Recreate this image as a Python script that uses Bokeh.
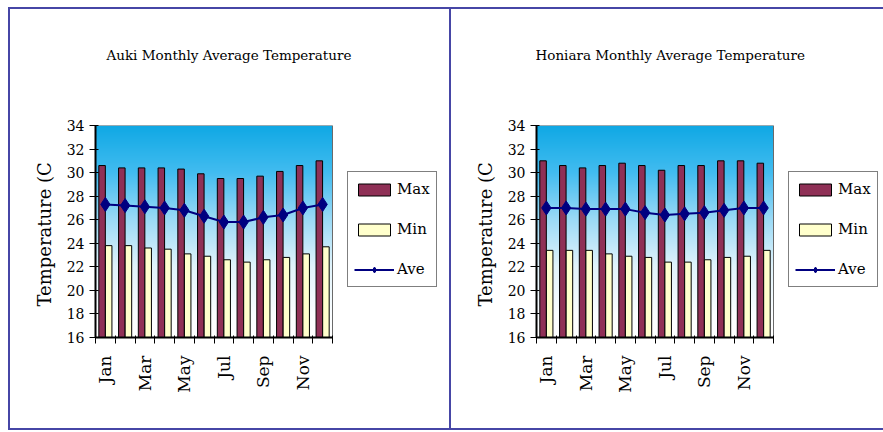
import numpy as np
from bokeh.plotting import figure
from bokeh.layouts import row
from bokeh.models import FixedTicker, Legend, LegendItem, ColumnDataSource, Title
from bokeh.embed import file_html
from bokeh.resources import INLINE

# ---- data -------------------------------------------------------------
months = ["Jan", "Feb", "Mar", "Apr", "May", "Jun",
          "Jul", "Aug", "Sep", "Oct", "Nov", "Dec"]

auki_max = [30.6, 30.4, 30.4, 30.4, 30.3, 29.9, 29.5, 29.5, 29.7, 30.1, 30.6, 31.0]
auki_min = [23.8, 23.8, 23.6, 23.5, 23.1, 22.9, 22.6, 22.4, 22.6, 22.8, 23.1, 23.7]
auki_ave = [27.3, 27.2, 27.1, 27.0, 26.8, 26.3, 25.8, 25.8, 26.2, 26.4, 27.0, 27.3]

honiara_max = [31.0, 30.6, 30.4, 30.6, 30.8, 30.6, 30.2, 30.6, 30.6, 31.0, 31.0, 30.8]
honiara_min = [23.4, 23.4, 23.4, 23.1, 22.9, 22.8, 22.4, 22.4, 22.6, 22.8, 22.9, 23.4]
honiara_ave = [27.0, 27.0, 26.9, 26.9, 26.9, 26.6, 26.4, 26.5, 26.6, 26.8, 27.0, 27.0]

y_ticks = [16, 18, 20, 22, 24, 26, 28, 30, 32, 34]
labelled_months = ["Jan", "Mar", "May", "Jul", "Sep", "Nov"]

# ---- styling ----------------------------------------------------------
FONT = "DejaVu Serif"
MAX_COLOR = "#8f3056"
MIN_COLOR = "#ffffcc"
AVE_COLOR = "#000080"
FRAME_COLOR = "#4646a6"

PLOT_LEFT = 95      # px from panel edge to the value axis
PLOT_WIDTH = 237    # px covered by the twelve month slots

# sky gradient stops (value, rgb) for the plot-area backdrop
GRADIENT = [(16, (255, 255, 255)), (18, (250, 253, 255)), (22, (225, 243, 251)),
            (26, (155, 218, 246)), (30, (66, 188, 240)), (34, (16, 168, 228))]


def gradient_image(v0, v1, rows=212):
    vals = np.linspace(v0, v1, rows)
    img = np.zeros((rows, 1), dtype=np.uint32)
    view = img.view(dtype=np.uint8).reshape((rows, 1, 4))
    stops_v = [s[0] for s in GRADIENT]
    for ch in range(3):
        view[:, 0, ch] = np.round(np.interp(vals, stops_v, [s[1][ch] for s in GRADIENT]))
    view[:, 0, 3] = 255
    return img


def panel_frame_css(width, rule_start):
    # thin rules that box in each panel (left, top and bottom edges)
    c = FRAME_COLOR
    return {
        "background":
            f"linear-gradient({c},{c}) 8px 7px / 2px 423px no-repeat, "
            f"linear-gradient({c},{c}) {rule_start}px 7px / {width}px 2px no-repeat, "
            f"linear-gradient({c},{c}) {rule_start}px 428px / {width}px 2px no-repeat, white"
    }


def make_panel(title, mx, mn, av, total_width, rule_start, title_offset):
    y0, y1 = y_ticks[0], y_ticks[-1]
    n = len(months)
    # the frame runs to the panel's right edge so the legend can sit beside
    # the month slots; the x axis is bounded to the slots themselves
    x_end = 0.5 + n * (total_width - PLOT_LEFT) / PLOT_WIDTH
    p = figure(width=total_width, height=432,
               min_border_left=PLOT_LEFT, min_border_right=0,
               min_border_top=125, min_border_bottom=95,
               x_range=(0.5, x_end), y_range=(y0, y1),
               output_backend="svg", toolbar_location=None,
               border_fill_alpha=0, background_fill_alpha=0)
    p.styles = panel_frame_css(total_width, rule_start)
    p.outline_line_color = None

    # backdrop gradient behind the bars, with a thin edge
    p.image_rgba(image=[gradient_image(y0, y1)], x=0.5, y=y0, dw=n, dh=y1 - y0)
    p.quad(left=0.5, right=n + 0.5, bottom=y0, top=y1,
           fill_color=None, line_color="#6a6a6a", line_width=1)

    x = list(range(1, n + 1))
    src = ColumnDataSource(dict(
        x=x,
        x_max=[i - 0.167 for i in x],
        x_min=[i + 0.167 for i in x],
        mx=mx, mn=mn, av=av))

    r_max = p.vbar(x="x_max", top="mx", bottom=y0, width=0.33, source=src,
                   fill_color=MAX_COLOR, line_color="black", line_width=1)
    r_min = p.vbar(x="x_min", top="mn", bottom=y0, width=0.33, source=src,
                   fill_color=MIN_COLOR, line_color="black", line_width=1)
    r_line = p.line(x="x", y="av", source=src, line_color=AVE_COLOR, line_width=2)
    r_pts = p.scatter(x="x", y="av", source=src, marker="diamond", size=14,
                      fill_color=AVE_COLOR, line_color=AVE_COLOR)

    # title, lifted clear of the plot by an empty spacer band
    p.title.text = title
    p.title.align = "left"
    p.title.offset = title_offset
    p.title.standoff = 10
    p.title.text_font = FONT
    p.title.text_font_size = "13.5px"
    p.title.text_font_style = "normal"
    p.title.text_color = "black"
    p.add_layout(Title(text=" ", standoff=41, text_font_size="13.5px"), "above")

    # axes
    p.xgrid.visible = False
    p.ygrid.visible = False

    xa = p.xaxis[0]
    label_pos = [months.index(m) + 1 for m in labelled_months]
    xa.bounds = (0.5, n + 0.5)
    xa.ticker = FixedTicker(ticks=label_pos,
                            minor_ticks=[i + 0.5 for i in range(n + 1)])
    xa.major_label_overrides = {k: m for k, m in zip(label_pos, labelled_months)}
    xa.major_tick_out = 0
    xa.major_tick_in = 0
    xa.minor_tick_out = 6
    xa.minor_tick_in = 2
    xa.minor_tick_line_color = "black"
    xa.minor_tick_line_width = 1
    xa.axis_line_color = "black"
    xa.axis_line_width = 2
    xa.major_label_orientation = np.pi / 2
    xa.major_label_standoff = 12
    xa.major_label_text_font = FONT
    xa.major_label_text_font_size = "17px"
    xa.major_label_text_color = "black"

    ya = p.yaxis[0]
    ya.ticker = FixedTicker(ticks=y_ticks, minor_ticks=[])
    ya.major_tick_out = 6
    ya.major_tick_in = 3
    ya.major_tick_line_color = "black"
    ya.major_tick_line_width = 1
    ya.axis_line_color = "black"
    ya.axis_line_width = 2
    ya.major_label_standoff = 5
    ya.major_label_text_font = FONT
    ya.major_label_text_font_size = "14px"
    ya.major_label_text_color = "black"
    ya.axis_label = "Temperature  (C"
    ya.axis_label_standoff = 9
    ya.axis_label_text_font = FONT
    ya.axis_label_text_font_size = "18px"
    ya.axis_label_text_font_style = "normal"
    ya.axis_label_text_color = "black"

    # legend sits just right of the month slots (offsets are frame pixels)
    legend = Legend(items=[LegendItem(label="Max", renderers=[r_max]),
                           LegendItem(label="Min", renderers=[r_min]),
                           LegendItem(label="Ave", renderers=[r_line, r_pts])],
                    location=(252, 50), glyph_width=40, glyph_height=15,
                    label_height=22, spacing=18, padding=6, label_standoff=3,
                    margin=0, border_line_color="black", border_line_width=1,
                    background_fill_color="white", background_fill_alpha=1,
                    label_text_font=FONT, label_text_font_size="15px",
                    label_text_color="black")
    p.add_layout(legend, "center")
    return p


left = make_panel("Auki Monthly Average Temperature",
                  auki_max, auki_min, auki_ave, 441, 8, 11)
right = make_panel("Honiara Monthly Average Temperature",
                   honiara_max, honiara_min, honiara_ave, 442, 0, -1)

layout = row(left, right, spacing=0)
open("out.html", "w").write(file_html(layout, INLINE))
